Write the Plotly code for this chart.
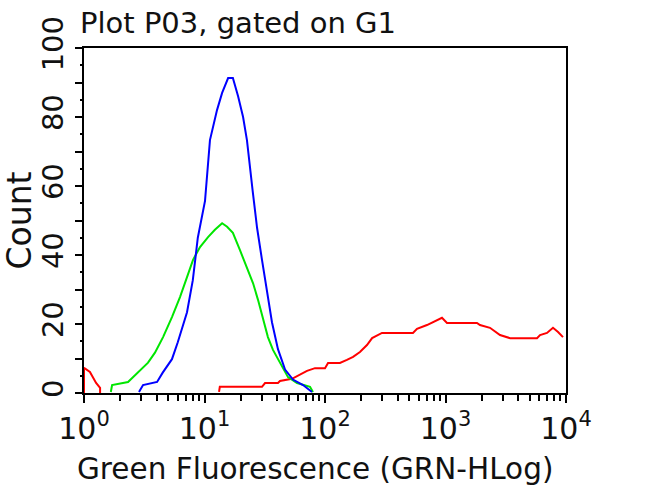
import plotly.graph_objects as go

# ---- data ----
blue_x = [2.86, 3.09, 4.04, 4.5, 5.37, 6.0, 7.16, 8.0, 8.8, 10.1, 11.1, 12.7, 14.0, 15.7,
          17.2, 19.0, 20.9, 22.5, 25.1, 27.3, 30.0, 33.0, 36.3, 40.7, 46.6, 54.2, 65.7, 78.0]
blue_y = [0.3, 2.3, 3.2, 5.9, 9.8, 14.7, 23.4, 32.7, 45, 55.7, 73.3, 82, 87, 91.3,
          91.3, 86, 80, 73.3, 58.6, 47.9, 38.6, 29.3, 20.5, 12.7, 6.8, 3.9, 2.3, 0.3]

green_x = [1.67, 1.71, 2.32, 2.81, 3.4, 3.88, 4.53, 5.37, 6.26, 7.16, 8.03, 9.18, 10.7, 12.2,
           14.0, 15.4, 17.2, 19.7, 22.5, 25.3, 27.8, 30.6, 33.6, 37.0, 42.3, 49.3, 58.6, 75.1, 79.5]
green_y = [0.3, 2.3, 3.2, 5.9, 8.8, 11.7, 16.2, 22, 27.8, 33.6, 38.6, 42.3, 45.2, 47.3,
           49.2, 48.2, 46.4, 41.4, 36.5, 31.8, 27, 21.2, 16.2, 12.5, 8.8, 4.6, 2.9, 1.8, 0.3]

red_low_x = [1.0, 1.0, 1.12, 1.2, 1.26, 1.36, 1.36]
red_low_y = [0, 7.3, 6.1, 4.4, 2.9, 1.5, 0]

red_x = [13.2, 13.4, 30, 31.8, 40.7, 42.3, 53.2, 62, 70.9, 82.6, 100, 106, 133, 152, 171,
         195, 223, 246, 297, 537, 580, 702, 866, 935, 1029, 1825, 1932, 2340, 2833, 3431,
         5746, 6088, 6954, 7800, 8590, 9440]
red_y = [0.3, 1.8, 1.8, 2.9, 2.9, 3.5, 4.1, 5.2, 6.4, 7.2, 7.2, 8.7, 8.7, 9.6, 10.5,
         11.9, 13.9, 15.9, 17.4, 17.4, 18.6, 19.7, 21.2, 21.8, 20.3, 20.3, 19.7, 18.9, 16.8, 15.9,
         15.9, 16.8, 17.4, 18.9, 17.7, 16.2]

x_tickvals = [1, 10, 100, 1000, 10000]
x_ticktext = ["10<sup>0</sup>", "10<sup>1</sup>", "10<sup>2</sup>", "10<sup>3</sup>", "10<sup>4</sup>"]
x_minorvals = [m * d for d in [1, 10, 100, 1000] for m in [2, 3, 4, 5, 6, 7, 8, 9]]
y_tickvals = [0, 10, 20, 30, 40, 50, 60, 70, 80, 90, 100]
y_ticktext = ["0", "", "20", "", "40", "", "60", "", "80", "", "100"]

title_text = "Plot P03, gated on G1"
x_title = "Green Fluorescence (GRN-HLog)"
y_title = "Count"

FONT = "DejaVu Sans"
TXT = "#111111"

fig = go.Figure()
fig.add_trace(go.Scatter(x=red_low_x + [None] + red_x, y=red_low_y + [None] + red_y,
                         mode="lines", line=dict(color="#ff0000", width=2)))
fig.add_trace(go.Scatter(x=green_x, y=green_y, mode="lines",
                         line=dict(color="#00e600", width=2)))
fig.add_trace(go.Scatter(x=blue_x, y=blue_y, mode="lines",
                         line=dict(color="#0000ff", width=2)))

fig.update_layout(
    width=650, height=488,
    margin=dict(l=84, r=84, t=48, b=95, autoexpand=False),
    paper_bgcolor="white", plot_bgcolor="white",
    showlegend=False,
    font=dict(family=FONT, color=TXT),
    title=dict(text=title_text, x=80/650, xanchor="left", y=1 - 23/488, yanchor="middle",
               font=dict(family=FONT, size=29, color=TXT), automargin=False),
    annotations=[dict(text=x_title, xref="paper", yref="paper",
                      x=(315 - 84) / 482, y=(393 - 469) / 345,
                      xanchor="center", yanchor="middle", showarrow=False,
                      font=dict(family=FONT, size=29.5, color=TXT))],
)
fig.update_xaxes(
    type="log", range=[0, 4], automargin=False,
    showgrid=False, zeroline=False,
    showline=True, linecolor="black", linewidth=2, mirror=True,
    ticks="outside", ticklen=8, tickwidth=2, tickcolor="black",
    tickvals=x_tickvals, ticktext=x_ticktext,
    tickfont=dict(family=FONT, size=30, color=TXT),
    minor=dict(ticks="outside", tickmode="array", tickvals=x_minorvals,
               ticklen=6, tickwidth=2, tickcolor="black", showgrid=False),
)
fig.update_yaxes(
    range=[0, 100], automargin=False,
    showgrid=False, zeroline=False,
    showline=True, linecolor="black", linewidth=2, mirror=True,
    ticks="outside", ticklen=7, tickwidth=2, tickcolor="black",
    tickvals=y_tickvals, ticktext=y_ticktext, tickangle=-90,
    tickfont=dict(family=FONT, size=29, color=TXT),
    minor=dict(ticks="outside", ticklen=2, tickwidth=2, tickcolor="black", dtick=5, tick0=0, showgrid=False),
    title=dict(text=y_title, font=dict(family=FONT, size=33, color=TXT), standoff=10),
)

fig.write_html("out.html")
